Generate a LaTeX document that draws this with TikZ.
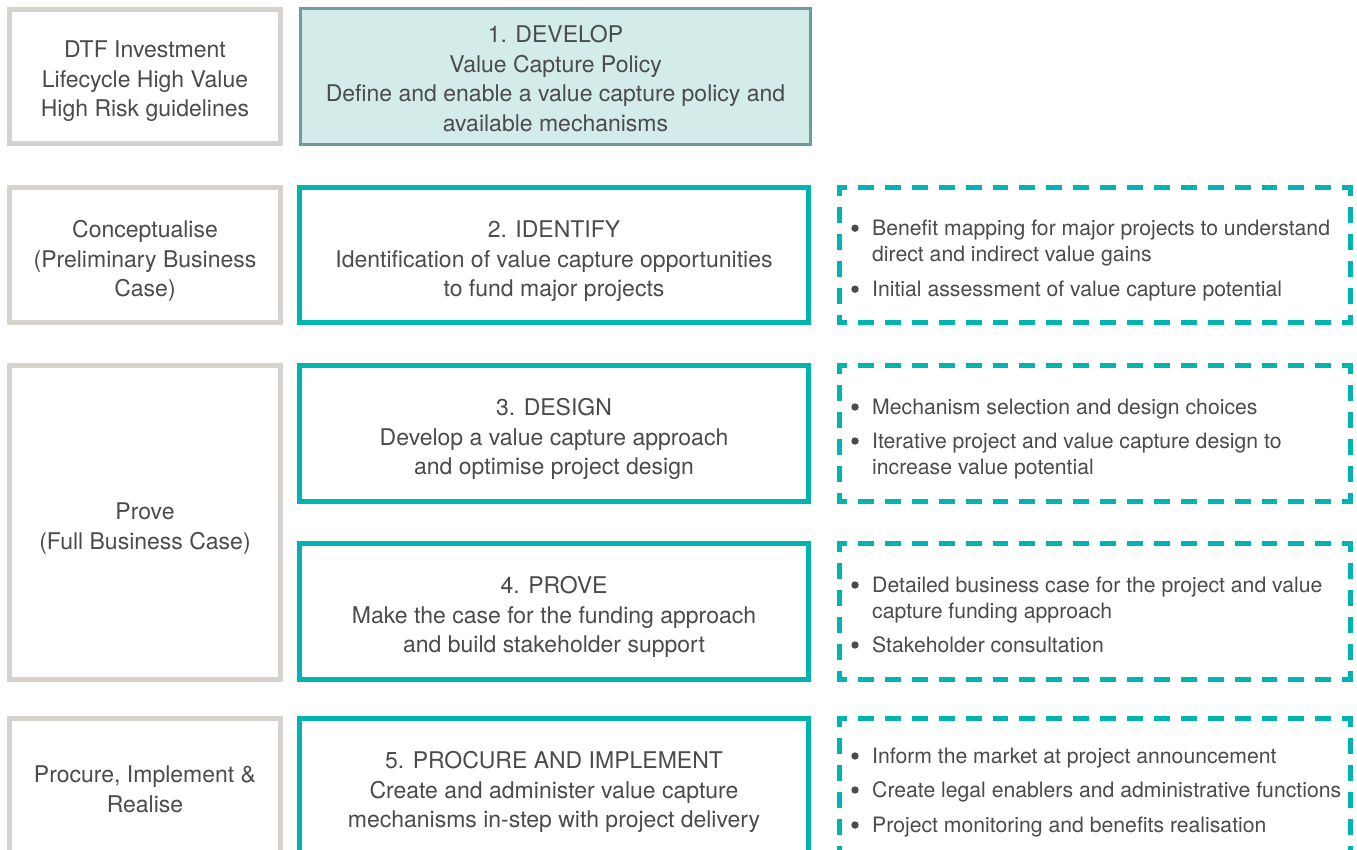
\documentclass[tikz,border=0pt]{standalone}
\usepackage{fontspec}
\setmainfont{TeX Gyre Heros}
\usetikzlibrary{calc}
\definecolor{tealc}{HTML}{00B5AF}
\definecolor{phgray}{HTML}{D6D3CF}
\definecolor{devfill}{HTML}{D3ECEA}
\definecolor{devdraw}{HTML}{6A9E9E}
\definecolor{txt}{HTML}{4B4B4B}
\begin{document}
\begin{tikzpicture}[x=1pt,y=-1pt,
  phase/.style={draw=phgray, line width=5pt, fill=white, inner sep=0pt, minimum width=271pt},
  stage/.style={draw=tealc, line width=5pt, fill=white, inner sep=0pt, minimum width=509pt},
  devbox/.style={draw=devdraw, line width=2.5pt, fill=devfill, inner sep=0pt, minimum width=510pt},
  boxtext/.style={inner sep=0pt, align=center, text=txt, font=\fontsize{23}{29.5}\selectfont,
    execute at begin node=\strut, execute at end node=\strut},
  act/.style={draw=none, inner sep=0pt, outer sep=0pt, minimum width=511pt},
  bul/.style={anchor=base west, inner sep=0pt, text=txt, font=\fontsize{21.2}{26}\selectfont},
  dotb/.style={circle, fill=txt, draw=none, inner sep=0pt, minimum size=7.4pt},
  dashh/.style={draw=tealc, line width=5pt, dash pattern=on 15.9pt off 11pt, dash phase=15.9pt},
  dashv/.style={draw=tealc, line width=5pt, dash pattern=on 16.1pt off 11pt, dash phase=16.1pt},
  cornerl/.style={draw=tealc, line width=5pt, line join=miter}
]
\useasboundingbox (0,0) rectangle (1357,849);
\clip (0,0) rectangle (1357,849);
\fill[white] (0,0) rectangle (1357,849);

% phase boxes (left column)
\node[phase, minimum height=134pt] (p1) at (145,76.5) {};
\node[phase, minimum height=135pt] (p2) at (145,255) {};
\node[phase, minimum height=314pt] (p3) at (145,522.5) {};
\node[phase, minimum height=135pt] (p5) at (145,786) {};
\node[boxtext] (p1t) at ([yshift=-7pt]p1.center) {DTF Investment\\Lifecycle High Value\\High Risk guidelines};
\node[boxtext] (p2t) at ([yshift=-8pt]p2.center) {Conceptualise\\(Preliminary Business\\Case)};
\node[boxtext] (p3t) at ([yshift=-8pt]p3.center) {Prove\\(Full Business Case)};
\node[boxtext] (p5t) at ([yshift=-7.5pt]p5.center) {Procure, Implement \&\\Realise};

% stage boxes (middle column)
\node[devbox, minimum height=136pt] (s1) at (555.5,76.5) {};
\node[stage, minimum height=135pt] (s2) at (554,255) {};
\node[stage, minimum height=136pt] (s3) at (554,433.5) {};
\node[stage, minimum height=136pt] (s4) at (554,611.5) {};
\node[stage, minimum height=135pt] (s5) at (554,786) {};
\node[boxtext] (s1t) at ([yshift=-6.5pt]s1.center) {1. DEVELOP\\Value Capture Policy\\Define and enable a value capture policy and\\available mechanisms};
\node[boxtext] (s2t) at ([yshift=-8.5pt]s2.center) {2. IDENTIFY\\Identification of value capture opportunities\\to fund major projects};
\node[boxtext] (s3t) at ([yshift=-7.5pt]s3.center) {3. DESIGN\\Develop a value capture approach\\and optimise project design};
\node[boxtext] (s4t) at ([yshift=-7.5pt]s4.center) {4. PROVE\\Make the case for the funding approach\\and build stakeholder support};
\node[boxtext] (s5t) at ([yshift=-8pt]s5.center) {5. PROCURE AND IMPLEMENT\\Create and administer value capture\\mechanisms in-step with project delivery};

% activity frames (right column)
\node[act, minimum height=135pt] (a2) at (1094.5,255) {};
\node[act, minimum height=136pt] (a3) at (1094.5,433.5) {};
\node[act, minimum height=136pt] (a4) at (1094.5,611.5) {};
\node[act, minimum height=135pt] (a5) at (1094.5,786) {};

\foreach \n in {a2,a3,a4,a5}{
  \draw[cornerl] ($(\n.north west)+(0,8)$) -- (\n.north west) -- ($(\n.north west)+(8,0)$);
  \draw[cornerl] ($(\n.north east)+(-8,0)$) -- (\n.north east) -- ($(\n.north east)+(0,8)$);
  \draw[cornerl] ($(\n.south east)+(0,-8)$) -- (\n.south east) -- ($(\n.south east)+(-8,0)$);
  \draw[cornerl] ($(\n.south west)+(8,0)$) -- (\n.south west) -- ($(\n.south west)+(0,-8)$);
  \draw[dashh] ($(\n.north west)+(8,0)$) -- ($(\n.north east)+(-8,0)$);
  \draw[dashh] ($(\n.south west)+(8,0)$) -- ($(\n.south east)+(-8,0)$);
  \draw[dashv] ($(\n.north west)+(0,8)$) -- ($(\n.south west)+(0,-8)$);
  \draw[dashv] ($(\n.north east)+(0,8)$) -- ($(\n.south east)+(0,-8)$);
}

% bullet texts
\node[bul] (t2a) at (872,235.7) {Benefit mapping for major projects to understand};
\node[bul] (t2b) at (872,261.7) {direct and indirect value gains};
\node[bul] (t2c) at (872,296.7) {Initial assessment of value capture potential};
\node[dotb] (d2a) at (855,228.2) {};
\node[dotb] (d2c) at (855,289.2) {};

\node[bul] (t3a) at (872,414.5) {Mechanism selection and design choices};
\node[bul] (t3b) at (872,448.5) {Iterative project and value capture design to};
\node[bul] (t3c) at (872,474.5) {increase value potential};
\node[dotb] (d3a) at (855,407) {};
\node[dotb] (d3b) at (855,441) {};

\node[bul] (t4a) at (872,592.5) {Detailed business case for the project and value};
\node[bul] (t4b) at (872,618.5) {capture funding approach};
\node[bul] (t4c) at (872,652.5) {Stakeholder consultation};
\node[dotb] (d4a) at (855,585) {};
\node[dotb] (d4c) at (855,645) {};

\node[bul] (t5a) at (872,763.5) {Inform the market at project announcement};
\node[bul] (t5b) at (872,797.5) {Create legal enablers and administrative functions};
\node[bul] (t5c) at (872,832.5) {Project monitoring and benefits realisation};
\node[dotb] (d5a) at (855,756) {};
\node[dotb] (d5b) at (855,790) {};
\node[dotb] (d5c) at (855,825) {};
\end{tikzpicture}
\end{document}
